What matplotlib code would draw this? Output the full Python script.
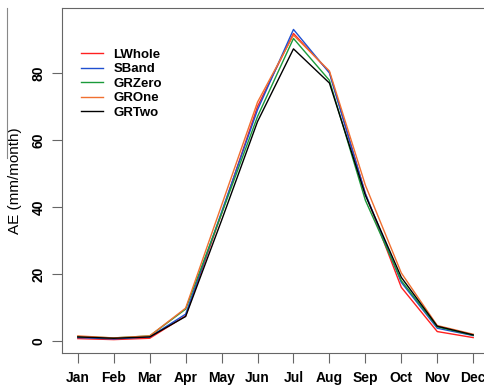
import matplotlib
matplotlib.use('Agg')
import matplotlib.pyplot as plt
from matplotlib.lines import Line2D

plt.rcParams['font.family'] = ['Liberation Sans', 'DejaVu Sans']

months = ['Jan', 'Feb', 'Mar', 'Apr', 'May', 'Jun', 'Jul', 'Aug', 'Sep', 'Oct', 'Nov', 'Dec']
lwhole = [0.7, 0.4, 0.8, 7.5, 38.0, 70.0, 91.8, 80.3, 44.0, 16.0, 2.8, 1.0]
sband = [1.0, 0.6, 1.2, 8.0, 38.5, 69.0, 93.0, 80.0, 44.0, 17.5, 3.8, 1.6]
grzero = [1.3, 0.9, 1.5, 9.5, 38.0, 67.0, 90.3, 77.8, 42.0, 18.0, 4.2, 1.7]
grone = [1.5, 0.9, 1.5, 9.8, 40.5, 71.3, 91.3, 80.6, 46.5, 20.3, 4.6, 2.0]
grtwo = [1.2, 0.8, 1.2, 7.3, 36.0, 65.5, 87.2, 77.0, 43.5, 19.0, 4.4, 1.8]

x = list(range(1, 13))

fig = plt.figure(figsize=(4.85, 3.85), dpi=100)
ax = fig.add_axes([62/485, 32/385, 427/485, 345/385])

ax.plot(x, lwhole, color='#ff2020', lw=1.0, label='LWhole')
ax.plot(x, sband, color='#1f4fd0', lw=1.0, label='SBand')
ax.plot(x, grzero, color='#1a9a3a', lw=1.0, label='GRZero')
ax.plot(x, grone, color='#f07030', lw=1.0, label='GROne')
ax.plot(x, grtwo, color='black', lw=1.0, label='GRTwo')

ax.set_xlim(0.56, 12.44)
ax.set_ylim(-3.6, 99.4)
ax.set_xticks(x)
ax.set_xticklabels(months, fontweight='bold', fontsize=10)
ax.set_yticks([0, 20, 40, 60, 80])
ax.set_yticklabels(['0', '20', '40', '60', '80'], fontweight='bold', fontsize=10,
                   rotation=90, va='center')
ax.set_ylabel('AE (mm/month)', fontsize=11, labelpad=6.5)

for s in ax.spines.values():
    s.set_color('#666666')
ax.tick_params(colors='#666666', length=7, width=0.8, labelcolor='black')
ax.tick_params(axis='x', pad=6)
ax.tick_params(axis='y', pad=5)

leg = ax.legend(loc='upper left', bbox_to_anchor=(0.033, 0.898), frameon=False,
                prop={'weight': 'bold', 'size': 9.5}, handlelength=1.67,
                labelspacing=0.17, handletextpad=0.76, borderaxespad=0)

# stray frame line on the left edge
fig.add_artist(Line2D([7/485, 7/485], [1 - 8/385, 1 - 158/385],
                      transform=fig.transFigure, color='#888888', lw=0.8))

fig.savefig('out.png', dpi=100)
